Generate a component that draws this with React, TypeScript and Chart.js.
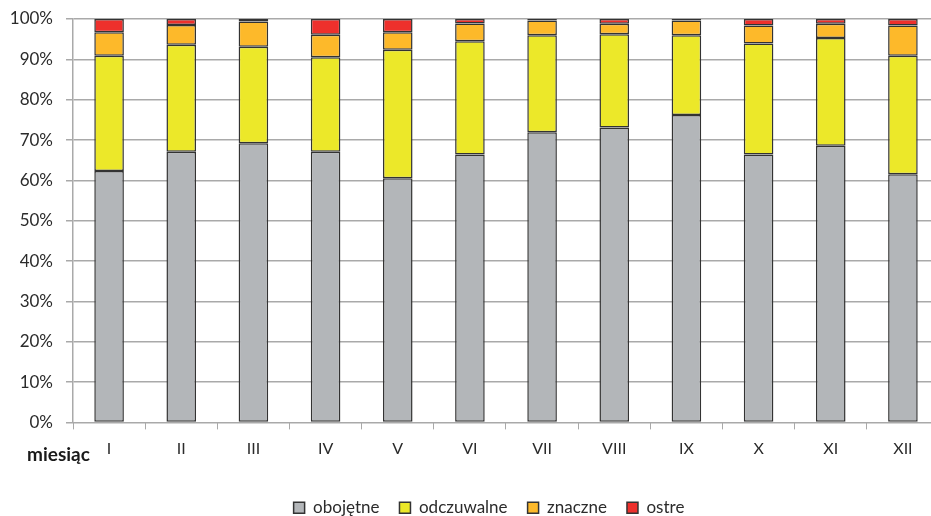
import React, { useEffect, useRef } from "react";
import { Chart, registerables } from "chart.js";

Chart.register(...registerables);

const months = ["I", "II", "III", "IV", "V", "VI", "VII", "VIII", "IX", "X", "XI", "XII"];
const obojetne = [62.3, 67.1, 69.2, 67.1, 60.5, 66.4, 71.9, 73.1, 76.2, 66.4, 68.6, 61.5];
const odczuwalne = [28.6, 26.5, 23.9, 23.4, 31.9, 28.1, 24.1, 23.1, 19.8, 27.5, 26.7, 29.4];
const znaczne = [5.8, 4.9, 6.3, 5.6, 4.3, 4.4, 3.6, 2.6, 3.6, 4.5, 3.5, 7.5];
const ostre = [3.3, 1.5, 0.6, 3.9, 3.3, 1.1, 0.4, 1.2, 0.4, 1.6, 1.2, 1.6];
const seriesNames = ["obojętne", "odczuwalne", "znaczne", "ostre"];
const axisTitle = "miesiąc";

const FONT = "Lato, 'Open Sans', sans-serif";
const TEXT = "#2b2b2b";
const GRID = "#a9a9a9";
const BORDER = "#333333";

const axisTitlePlugin = {
  id: "axisTitleLeft",
  afterDraw(chart: any) {
    const ctx = chart.ctx;
    ctx.save();
    ctx.font = `bold 19px ${FONT}`;
    ctx.fillStyle = "#1a1a1a";
    ctx.textAlign = "left";
    ctx.textBaseline = "alphabetic";
    ctx.fillText(axisTitle, 27, 461);
    ctx.restore();
  },
};

export default function App() {
  const ref = useRef<HTMLCanvasElement>(null);
  useEffect(() => {
    const canvas = ref.current!;
    const mk = (label: string, data: number[], color: string) => ({
      label,
      data,
      backgroundColor: color,
      borderColor: BORDER,
      borderWidth: 1.5,
      borderSkipped: false as const,
      barPercentage: 0.41,
      categoryPercentage: 1,
      yAxisID: "y",
    });
    const chart = new Chart(canvas, {
      type: "bar",
      data: {
        labels: months,
        datasets: [
          mk(seriesNames[0], obojetne, "#b3b6b9"),
          mk(seriesNames[1], odczuwalne, "#ece829"),
          mk(seriesNames[2], znaczne, "#fdb92a"),
          mk(seriesNames[3], ostre, "#ee302c"),
        ],
      },
      options: {
        animation: false,
        responsive: false,
        devicePixelRatio: 1,
        layout: { padding: { left: 4, right: 6, top: 19, bottom: 3.8 } },
        plugins: {
          tooltip: { enabled: false },
          legend: {
            position: "bottom",
            labels: {
              boxWidth: 11,
              boxHeight: 11,
              padding: 20,
              color: TEXT,
              font: { family: FONT, size: 17 },
            },
          },
        },
        scales: {
          x: {
            stacked: true,
            offset: true,
            grid: {
              offset: true,
              drawOnChartArea: false,
              drawTicks: true,
              tickLength: 7,
              color: GRID,
              lineWidth: 1,
            },
            border: { color: GRID, width: 1 },
            ticks: { padding: 10, color: TEXT, font: { family: FONT, size: 16 } },
            afterFit: (s: any) => {
              s.height = 56.8;
            },
          },
          y: {
            stacked: true,
            position: "left",
            min: 0,
            max: 100,
            ticks: {
              stepSize: 10,
              padding: 13,
              color: TEXT,
              font: { family: FONT, size: 17 },
              callback: (v: any) => v + "%",
            },
            grid: { tickLength: 7, color: GRID, lineWidth: 1.5 },
            border: { color: GRID, width: 1.5 },
            afterFit: (s: any) => {
              s.width = 69;
              s.paddingTop = 0;
              s.paddingBottom = 0;
            },
          },
          spacer: {
            type: "linear",
            position: "right",
            display: true,
            grid: { display: false, drawTicks: false },
            border: { display: false },
            ticks: { display: false },
            afterFit: (s: any) => {
              s.width = 35;
              s.paddingTop = 0;
              s.paddingBottom = 0;
            },
          },
        },
      },
      plugins: [axisTitlePlugin],
    });
    return () => chart.destroy();
  }, []);
  return (
    <div style={{ position: "fixed", left: 0, top: 0, width: 931, height: 516, overflow: "hidden", background: "#fff" }}>
      <canvas ref={ref} width={980} height={530} style={{ display: "block", width: 980, height: 530 }} />
    </div>
  );
}
